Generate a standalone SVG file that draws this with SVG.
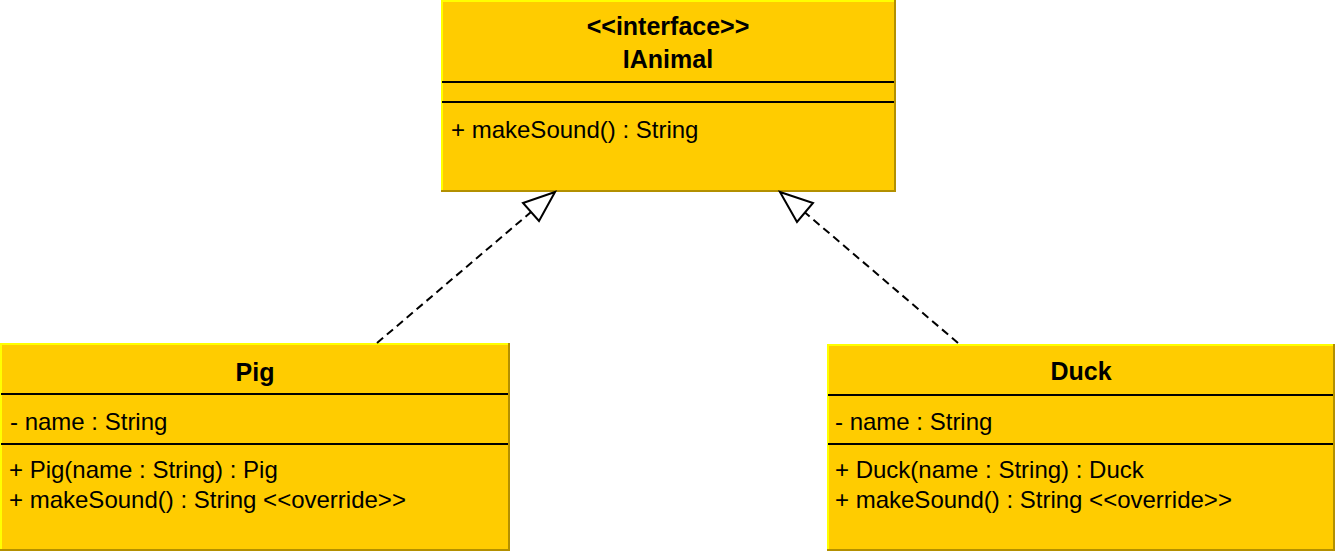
<svg xmlns="http://www.w3.org/2000/svg" width="1336" height="552" viewBox="0 0 1336 552">
<style>
.fill{fill:#FFCC00}
.hi{stroke:#FFFF00;stroke-width:2;fill:none}
.sh{stroke:#B39000;stroke-width:2;fill:none}
.sep{stroke:#000;stroke-width:2}
.t{font-family:"Liberation Sans",Arial,sans-serif;font-size:24px;fill:#000}
.b{font-family:"Liberation Sans",Arial,sans-serif;font-size:25px;font-weight:bold;fill:#000;text-anchor:middle}
.dash{stroke:#000;stroke-width:2;stroke-dasharray:8 5;fill:none}
.head{fill:#fff;stroke:#000;stroke-width:2;stroke-linejoin:miter}
</style>
<rect width="1336" height="552" fill="#fff"/>
<g id="IAnimal">
<rect class="fill" x="441" y="0" width="454" height="191"/>
<path class="hi" d="M442,191 V1 H894"/>
<path class="sh" d="M895,0 V191 H441"/>
<line class="sep" x1="442" y1="82" x2="894" y2="82"/>
<line class="sep" x1="442" y1="102" x2="894" y2="102"/>
<text class="b" x="668" y="35">&lt;&lt;interface&gt;&gt;</text>
<text class="b" x="668" y="68">IAnimal</text>
<text class="t" x="451" y="138">+ makeSound() : String</text>
</g>
<g id="Pig">
<rect class="fill" x="0" y="343" width="509" height="207"/>
<path class="hi" d="M1,550 V344 H508"/>
<path class="sh" d="M509,343 V550 H0"/>
<line class="sep" x1="1" y1="394" x2="508" y2="394"/>
<line class="sep" x1="1" y1="444" x2="508" y2="444"/>
<text class="b" x="255" y="381">Pig</text>
<text class="t" x="10" y="430">- name : String</text>
<text class="t" x="9" y="478">+ Pig(name : String) : Pig</text>
<text class="t" x="9" y="508">+ makeSound() : String &lt;&lt;override&gt;&gt;</text>
</g>
<g id="Duck">
<rect class="fill" x="827" y="344" width="507" height="206"/>
<path class="hi" d="M828,550 V345 H1333"/>
<path class="sh" d="M1334,344 V550 H827"/>
<line class="sep" x1="828" y1="395" x2="1333" y2="395"/>
<line class="sep" x1="828" y1="444" x2="1333" y2="444"/>
<text class="b" x="1081" y="380">Duck</text>
<text class="t" x="835" y="430">- name : String</text>
<text class="t" x="835" y="478">+ Duck(name : String) : Duck</text>
<text class="t" x="835" y="508">+ makeSound() : String &lt;&lt;override&gt;&gt;</text>
</g>
<g id="connectors">
<line class="dash" x1="377" y1="343" x2="531" y2="212"/>
<polygon class="head" points="555,192 523,203 539,221"/>
<line class="dash" x1="958" y1="343" x2="805" y2="212.5"/>
<polygon class="head" points="780,192 813,203 797,222"/>
</g>
</svg>
